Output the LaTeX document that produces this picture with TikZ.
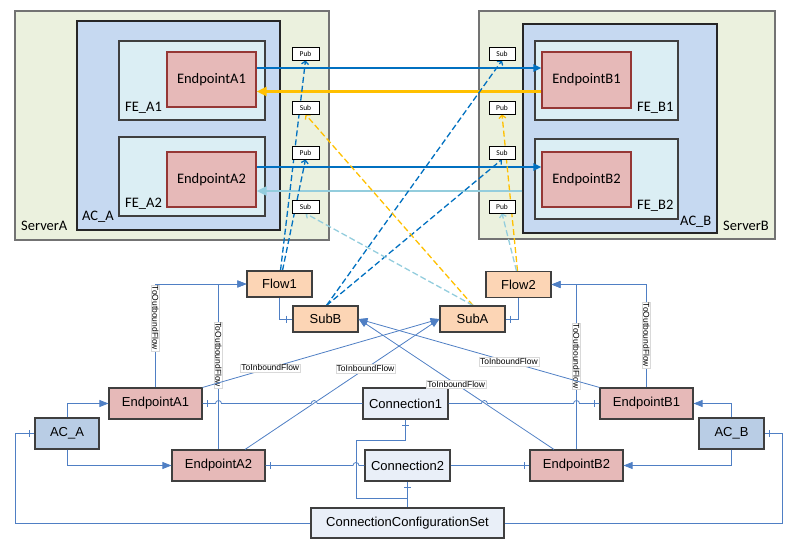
\documentclass[tikz,border=0pt]{standalone}
\usepackage{fontspec}
\setmainfont{Liberation Sans}
\newfontfamily\calfont{Carlito}
\usetikzlibrary{arrows.meta,calc}
\pgfdeclarelayer{back}
\pgfdeclarelayer{mid}
\pgfsetlayers{back,mid,main}
\definecolor{srv}{HTML}{EBF1DE}
\definecolor{acc}{HTML}{C6D9F1}
\definecolor{fec}{HTML}{DBEEF4}
\definecolor{epc}{HTML}{E6B9B8}
\definecolor{epb}{HTML}{953735}
\definecolor{dblue}{HTML}{0070C0}
\definecolor{orng}{HTML}{FFC000}
\definecolor{lblue}{HTML}{93CDDD}
\definecolor{connc}{HTML}{4F7FC4}
\definecolor{flowc}{HTML}{FCD5B5}
\definecolor{acl}{HTML}{B9CDE5}
\definecolor{cnc}{HTML}{E9EFF8}
\definecolor{bord}{HTML}{3F3F3F}
\newcommand\tickV[1]{\draw[cl] (#1) ++(0,-3.5) -- ++(0,7);}
\newcommand\tickH[1]{\draw[cl] (#1) ++(-3.5,0) -- ++(7,0);}
\tikzset{
  cont/.style={draw=bord, line width=1.1pt, inner sep=0pt, rectangle},
  ept/.style={draw=epb, line width=1.3pt, fill=epc, inner sep=0pt, minimum width=89pt, minimum height=55pt, font=\calfont\fontsize{14.5}{16}\selectfont},
  ps/.style={draw=black, fill=white, line width=0.8pt, minimum width=27pt, minimum height=13pt, inner sep=0pt, font=\calfont\fontsize{7.5}{8}\selectfont},
  clab/.style={anchor=base west, inner sep=0pt, font=\calfont\fontsize{14.5}{16}\selectfont},
  lnode/.style={draw=bord, line width=1.1pt, minimum height=31pt, inner sep=0pt, font=\fontsize{13}{15}\selectfont},
  cl/.style={draw=connc, line width=0.8pt},
  arr/.style={-{Triangle[length=9pt,width=7pt]}, connc},
  lab/.style={fill=white, draw=black!15, line width=0.3pt, inner sep=1pt, text=black, font=\fontsize{8.5}{9}\selectfont},
  dsh/.style={line width=1.3pt, dash pattern=on 6pt off 3pt, -{Straight Barb[length=3pt,width=7pt]}},
}
\begin{document}
\begin{tikzpicture}[x=1pt,y=-1pt]
\useasboundingbox (0,0) rectangle (792,553);
% ---------- upper containers ----------
\begin{pgfonlayer}{back}
\node[cont, fill=srv, draw=black!55, minimum width=314pt, minimum height=229pt] (srvA) at (172,125.5) {};
\node[cont, fill=acc, draw=black!85, minimum width=203pt, minimum height=209pt] (acAt) at (178.5,125.5) {};
\node[cont, fill=fec, minimum width=146pt, minimum height=79pt] (feA1) at (192,80.5) {};
\node[ept] (eA1t) at (211.5,79.5) {EndpointA1};
\node[cont, fill=fec, minimum width=146pt, minimum height=79pt] (feA2) at (192,176.5) {};
\node[ept] (eA2t) at (211.5,179.5) {EndpointA2};
\node[cont, fill=srv, draw=black!55, minimum width=296pt, minimum height=228pt] (srvB) at (627,125) {};
\node[cont, fill=acc, draw=black!85, minimum width=194pt, minimum height=209pt] (acBt) at (620,128.5) {};
\node[cont, fill=fec, minimum width=143pt, minimum height=79pt] (feB1) at (606.5,80.5) {};
\node[ept, minimum height=56pt] (eB1t) at (586.5,80) {EndpointB1};
\node[cont, fill=fec, minimum width=143pt, minimum height=80pt] (feB2) at (606.5,179) {};
\node[ept] (eB2t) at (586.5,179.5) {EndpointB2};
\node[clab] (tsA) at (21,231) {ServerA};
\node[clab] (tacA) at (82,221) {AC\_A};
\node[clab] (tfA1) at (125,112) {FE\_A1};
\node[clab] (tfA2) at (125,208) {FE\_A2};
\node[clab] (tsB) at (723,231) {ServerB};
\node[clab] (tacB) at (680,226) {AC\_B};
\node[clab] (tfB1) at (637,112) {FE\_B1};
\node[clab] (tfB2) at (637,210) {FE\_B2};
\end{pgfonlayer}
% pub/sub boxes
\node[ps] (pA1) at (305.5,53.5) {Pub};
\node[ps] (sA1) at (305.5,107.5) {Sub};
\node[ps] (pA2) at (305.5,152.5) {Pub};
\node[ps] (sA2) at (305.5,206.5) {Sub};
\node[ps, minimum width=26pt] (sB1) at (502,53.5) {Sub};
\node[ps, minimum width=26pt] (pB1) at (502,107.5) {Pub};
\node[ps, minimum width=26pt] (sB2) at (502,152.5) {Sub};
\node[ps, minimum width=26pt] (pB2) at (502,206.5) {Pub};
% ---------- lower nodes ----------
\node[lnode, fill=acl, minimum width=64pt] (acA) at (67,433.5) {AC\_A};
\node[lnode, fill=epc, minimum width=93pt] (eA1) at (155.5,403.5) {EndpointA1};
\node[lnode, fill=epc, minimum width=93pt] (eA2) at (218.5,465.5) {EndpointA2};
\node[lnode, fill=cnc, minimum width=85pt] (con1) at (405.5,403.5) {Connection1};
\node[lnode, fill=cnc, minimum width=85pt] (con2) at (407.5,465.5) {Connection2};
\node[lnode, fill=cnc, minimum width=193pt, minimum height=30pt] (ccs) at (407.5,523) {ConnectionConfigurationSet};
\node[lnode, fill=epc, minimum width=93pt] (eB1) at (646.5,403.5) {EndpointB1};
\node[lnode, fill=epc, minimum width=93pt] (eB2) at (576.5,465.5) {EndpointB2};
\node[lnode, fill=acl, minimum width=65pt] (acB) at (731.5,433.5) {AC\_B};
\node[lnode, fill=flowc, minimum width=65pt, minimum height=26pt] (flow1) at (279.5,284) {Flow1};
\node[lnode, fill=flowc, minimum width=65pt, minimum height=26pt] (subB) at (325.5,319) {SubB};
\node[lnode, fill=flowc, minimum width=65pt, minimum height=26pt] (subA) at (472.5,319) {SubA};
\node[lnode, fill=flowc, minimum width=65pt, minimum height=26pt] (flow2) at (518.5,284.5) {Flow2};
% ---------- upper arrows ----------
\begin{pgfonlayer}{mid}
\coordinate (a1) at ([yshift=11.5pt]eA1t.east);
\coordinate (o1) at ([yshift=-11.5pt]eB1t.west);
\coordinate (a2) at ([yshift=12.5pt]eA2t.east);
\coordinate (l2) at ([yshift=-11.5pt]eA2t.east);
\draw[dblue, line width=2pt, -{Triangle[length=8pt,width=7pt]}] (a1) -- (a1 -| eB1t.west);
\draw[orng, line width=2.5pt, -{Triangle[length=10pt,width=9pt]}] (o1) -- (o1 -| eA1t.east);
\draw[dblue, line width=2pt, -{Triangle[length=8pt,width=7pt]}] (a2) -- (a2 -| eB2t.west);
\draw[lblue, line width=2.5pt, -{Triangle[length=10pt,width=9pt]}] (l2 -| acBt.west) -- (l2);
% dashed
\draw[dsh, dblue] ([xshift=1pt]flow1.north) -- (pA1.south);
\draw[dsh, dblue] ([xshift=3pt]flow1.north) -- (pA2.south);
\draw[dsh, dblue] ([xshift=1pt]subB.north) -- (sB1.south);
\draw[dsh, dblue] ([xshift=1pt]subB.north) -- (sB2.south);
\draw[dsh, orng] ([xshift=0.5pt]subA.north) -- (sA1.south);
\draw[dsh, lblue] ([xshift=0.5pt]subA.north) -- (sA2.south);
\draw[dsh, orng] ([xshift=-1pt]flow2.north) -- (pB1.south);
\draw[dsh, lblue] ([xshift=-2pt]flow2.north) -- (pB2.south);
\end{pgfonlayer}
% ---------- lower connectors ----------
\draw[cl, arr] (acA.north) |- (eA1.west);
\draw[cl, arr] (acA.south) |- (eA2.west);
\draw[cl, arr] (acB.north) |- (eB1.east);
\draw[cl, arr] (acB.south) |- (eB2.east);
\draw[cl, arr] (eA1.north) |- (flow1.west) node[lab, rotate=-90, pos=0.336] {ToOutboundFlow};
\draw[cl, arr] (eA2.north) |- (flow1.west) node[lab, rotate=-90, pos=0.286] {ToOutboundFlow};
\draw[cl, arr] (eB1.north) |- (flow2.east) node[lab, rotate=-90, pos=0.255] {ToOutboundFlow};
\draw[cl, arr] (eB2.north) |- (flow2.east) node[lab, rotate=-90, pos=0.283] {ToOutboundFlow};
\draw[cl] (flow1.south) |- (subB.west);
\draw[cl] (flow2.south) |- (subA.east);
\draw[cl] (eA1.east) -- (215.5,403.5) arc[start angle=180, end angle=0, radius=3pt] -- (311.2,403.5) arc[start angle=180, end angle=0, radius=3pt] -- (con1.west);
\draw[cl] (con1.east) -- (481.4,403.5) arc[start angle=180, end angle=0, radius=3pt] -- (573.5,403.5) arc[start angle=180, end angle=0, radius=3pt] -- (eB1.west);
\draw[cl] (eA2.east) -- (353,465.5) arc[start angle=180, end angle=0, radius=3pt] -- (con2.west);
\draw[cl] (con2.east) -- (eB2.west);
\draw[cl] (con1.south) -- ++(0,21) -- ++(-49.5,0) -- ++(0,58) -| (ccs.north);
\draw[cl] (con2.south) -- (ccs.north);
\draw[cl] (acA.west) -- ++(-19,0) |- (ccs.west);
\draw[cl] (ccs.east) -- ++(278,0) |- (acB.east);
\draw[cl, arr] (eA1.north east) -- (subA.west) node[lab, pos=0.286] {ToInboundFlow};
\draw[cl, arr] ([xshift=26.5pt]eA2.north) -- (subA.west) node[lab, pos=0.62] {ToInboundFlow};
\draw[cl, arr] (eB1.north west) -- (subB.east) node[lab, pos=0.376] {ToInboundFlow};
\draw[cl, arr] ([xshift=-22.5pt]eB2.north) -- (subB.east) node[lab, pos=0.5] {ToInboundFlow};
\tickV{$(subB.west)+(-6,0)$}
\tickV{$(subA.east)+(5,0)$}
\tickV{$(eA1.east)+(5,0)$}
\tickV{$(eA2.east)+(5,0)$}
\tickV{$(eB1.west)+(-5,0)$}
\tickV{$(eB2.west)+(-5,0)$}
\tickV{$(acA.west)+(-5,0)$}
\tickV{$(acB.east)+(5,0)$}
\tickH{$(con1.south)+(0,6)$}
\tickH{$(con2.south)+(0,6)$}
\end{tikzpicture}
\end{document}
